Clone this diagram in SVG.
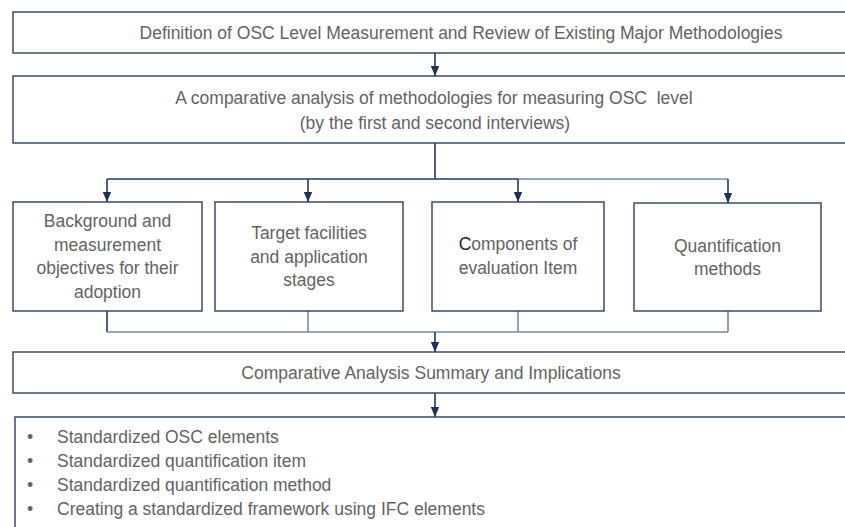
<svg xmlns="http://www.w3.org/2000/svg" width="845" height="527" viewBox="0 0 845 527">
<defs>
<marker id="ah" viewBox="0 0 10 10" refX="10" refY="5" markerWidth="10" markerHeight="10" markerUnits="userSpaceOnUse" orient="auto">
<path d="M0,0.8 L10,5 L0,9.2 Z" fill="#1f3158"/>
</marker>
</defs>
<style>
.box{fill:#fff;stroke:#2e3f63;stroke-width:1.4}
.t{font-family:"Liberation Sans",Arial,sans-serif;font-size:17.5px;fill:#636363;text-anchor:middle;dominant-baseline:central}
.l{font-family:"Liberation Sans",Arial,sans-serif;font-size:17.5px;fill:#636363;dominant-baseline:central}
.c{fill:none;stroke:#243861;stroke-width:1.6}
.cl{fill:none;stroke:#7b8aa6;stroke-width:1.6}
.a{fill:none;stroke:#243861;stroke-width:1.6;marker-end:url(#ah)}
</style>
<rect width="845" height="527" fill="#fff"/>
<g id="connectors">
<line class="a" x1="435" y1="53" x2="435" y2="76"/>
<line class="c" x1="435" y1="143" x2="435" y2="179"/>
<line class="c" x1="107" y1="179" x2="518" y2="179"/>
<line class="cl" x1="518" y1="179" x2="728" y2="179"/>
<line class="a" x1="107" y1="179" x2="107" y2="202"/>
<line class="a" x1="308" y1="179" x2="308" y2="202"/>
<line class="a" x1="518" y1="179" x2="518" y2="202"/>
<line class="a" x1="728" y1="179" x2="728" y2="203"/>
<line class="c" x1="107" y1="311" x2="107" y2="332"/>
<line class="cl" x1="308" y1="311" x2="308" y2="332"/>
<line class="cl" x1="518" y1="311" x2="518" y2="332"/>
<line class="cl" x1="728" y1="311" x2="728" y2="332"/>
<line class="cl" x1="107" y1="332" x2="728" y2="332"/>
<line class="a" x1="435" y1="332" x2="435" y2="352"/>
<line class="a" x1="435" y1="393" x2="435" y2="417"/>
</g>
<g id="n1">
<rect class="box" x="13" y="12" width="850" height="41"/>
<text class="t" x="461" y="33">Definition of OSC Level Measurement and Review of Existing Major Methodologies</text>
</g>
<g id="n2">
<rect class="box" x="13" y="76" width="850" height="67"/>
<text class="t" x="434" y="98">A comparative analysis of methodologies for measuring OSC&#160; level</text>
<text class="t" x="435" y="123">(by the first and second interviews)</text>
</g>
<g id="n3">
<rect class="box" x="13" y="202" width="189" height="109"/>
<text class="t" x="107.5" y="221">Background and</text>
<text class="t" x="107.5" y="245">measurement</text>
<text class="t" x="107.5" y="268">objectives for their</text>
<text class="t" x="107.5" y="292">adoption</text>
</g>
<g id="n4">
<rect class="box" x="215" y="202" width="188" height="109"/>
<text class="t" x="309" y="233">Target facilities</text>
<text class="t" x="309" y="257">and application</text>
<text class="t" x="309" y="280">stages</text>
</g>
<g id="n5">
<rect class="box" x="432" y="202" width="172" height="109"/>
<text class="t" x="518" y="244"><tspan fill="#222">C</tspan>omponents of</text>
<text class="t" x="518" y="268">evaluation Item</text>
</g>
<g id="n6">
<rect class="box" x="634" y="203" width="187" height="108"/>
<text class="t" x="727.5" y="246">Quantification</text>
<text class="t" x="727.5" y="269">methods</text>
</g>
<g id="n7">
<rect class="box" x="13" y="352" width="850" height="41"/>
<text class="t" x="431" y="373">Comparative Analysis Summary and Implications</text>
</g>
<g id="n8">
<rect class="box" x="15" y="417" width="850" height="120"/>
<text class="l" x="27" y="437">•</text>
<text class="l" x="57" y="437">Standardized OSC elements</text>
<text class="l" x="27" y="461">•</text>
<text class="l" x="57" y="461">Standardized quantification item</text>
<text class="l" x="27" y="485">•</text>
<text class="l" x="57" y="485">Standardized quantification method</text>
<text class="l" x="27" y="509">•</text>
<text class="l" x="57" y="509">Creating a standardized framework using IFC elements</text>
</g>
</svg>
